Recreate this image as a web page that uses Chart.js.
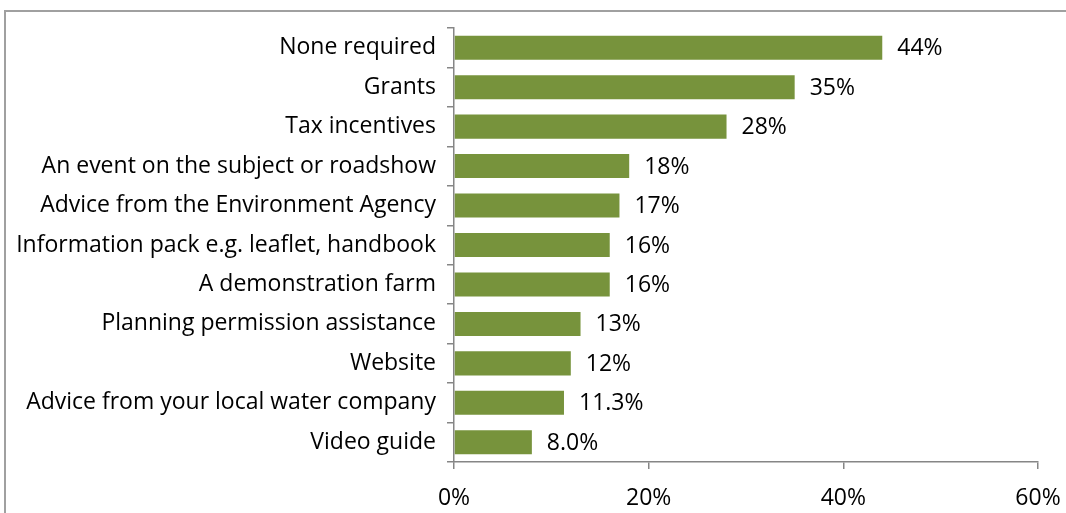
<!DOCTYPE html>
<html>
<head>
<meta charset="utf-8">
<script src="https://cdn.jsdelivr.net/npm/chart.js@4/dist/chart.umd.min.js"></script>
<style>
  html,body{margin:0;padding:0;background:#fff;overflow:hidden;}
  #wrap{position:relative;width:1066px;height:513px;}
  #frame{position:absolute;left:4px;top:10px;width:1080px;height:520px;border:2px solid #a0a0a0;box-sizing:border-box;pointer-events:none;}
  canvas{position:absolute;left:0;top:0;}
</style>
</head>
<body>
<div id="wrap">
  <div id="frame"></div>
  <canvas id="barCanvas" width="1066" height="513"></canvas>
</div>
<script>
const categories = [
  'None required',
  'Grants',
  'Tax incentives',
  'An event on the subject or roadshow',
  'Advice from the Environment Agency',
  'Information pack e.g. leaflet, handbook',
  'A demonstration farm',
  'Planning permission assistance',
  'Website',
  'Advice from your local water company',
  'Video guide'
];
const shares   = [44, 35, 28, 18, 17, 16, 16, 13, 12, 11.3, 8.0];
const decimals = [0, 0, 0, 0, 0, 0, 0, 0, 0, 1, 1];
const xTicks   = [0, 20, 40, 60];

const FONT = '"Open Sans", "Noto Sans", sans-serif';
const FONT_SIZE = 23;
const AXIS = '#868686';

// percent labels just past the end of each bar
const valueLabels = {
  id: 'valueLabels',
  afterDatasetsDraw(chart){
    const ctx = chart.ctx;
    const meta = chart.getDatasetMeta(0);
    ctx.save();
    ctx.font = `${FONT_SIZE}px ${FONT}`;
    ctx.fillStyle = '#000';
    ctx.textAlign = 'left';
    ctx.textBaseline = 'middle';
    meta.data.forEach((bar, i) => {
      ctx.fillText(shares[i].toFixed(decimals[i]) + '%', bar.x + 15, bar.y + 1);
    });
    ctx.restore();
  }
};

new Chart(document.getElementById('barCanvas'), {
  type: 'bar',
  data: {
    labels: categories,
    datasets: [{
      data: shares,
      backgroundColor: '#77933C',
      borderWidth: 0,
      barPercentage: 1,
      categoryPercentage: 0.61
    }]
  },
  options: {
    indexAxis: 'y',
    responsive: false,
    animation: false,
    layout: { padding: { top: 28, right: 28, left: 0, bottom: 0 } },
    plugins: { legend: { display: false }, tooltip: { enabled: false } },
    scales: {
      x: {
        min: 0, max: 60,
        afterBuildTicks: s => { s.ticks = xTicks.map(v => ({ value: v })); },
        afterFit: s => { s.height = 51; s.paddingLeft = 0; s.paddingRight = 0; },
        border: { color: AXIS, width: 1.5 },
        grid: { drawOnChartArea: false, drawTicks: true, tickLength: 7, color: AXIS, lineWidth: 1.5 },
        ticks: { color: '#000', font: { family: FONT, size: FONT_SIZE }, padding: 16, maxRotation: 0, callback: v => v + '%' }
      },
      y: {
        afterFit: s => { s.width = 454; },
        border: { color: AXIS, width: 1.5 },
        grid: { drawOnChartArea: false, drawTicks: true, tickLength: 7, color: AXIS, lineWidth: 1.5, offset: true },
        ticks: { color: '#000', font: { family: FONT, size: FONT_SIZE }, padding: 11, autoSkip: false }
      }
    }
  },
  plugins: [valueLabels]
});
</script>
</body>
</html>
